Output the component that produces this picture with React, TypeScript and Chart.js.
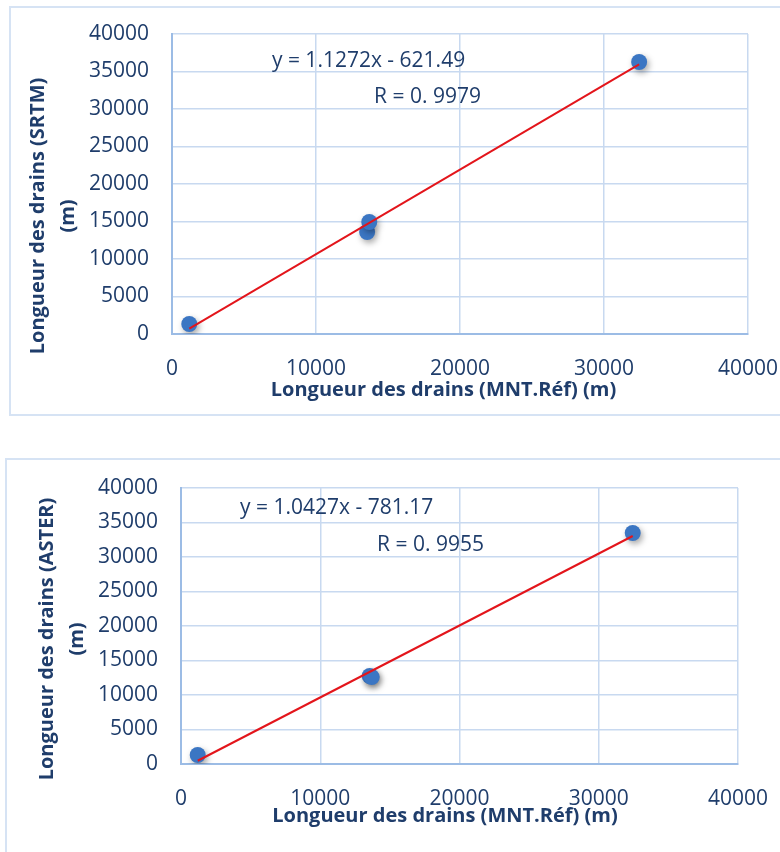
import React, { useEffect, useRef } from "react";
import { Chart, registerables } from "chart.js";

Chart.register(...registerables);

// ---------- data ----------
const REF_X = [1200, 13550, 13700, 32440];
const SRTM_Y = [1330, 13600, 14930, 36270];
const ASTER_Y = [1300, 12750, 12600, 33480];

const SRTM_TREND_X = [1200, 32440];
const SRTM_TREND_Y = [731, 35945];
const ASTER_TREND_X = [1200, 32440];
const ASTER_TREND_Y = [470, 33044];

const X_TICKS = [0, 10000, 20000, 30000, 40000];
const Y_TICKS = [0, 5000, 10000, 15000, 20000, 25000, 30000, 35000, 40000];

const X_TITLE = "Longueur des drains (MNT.Réf) (m)";
const SRTM_Y_TITLE = ["Longueur des drains (SRTM)", "(m)"];
const ASTER_Y_TITLE = ["Longueur des drains (ASTER)", "(m)"];
const SRTM_EQ = "y = 1.1272x - 621.49";
const SRTM_R = "R = 0. 9979";
const ASTER_EQ = "y = 1.0427x - 781.17";
const ASTER_R = "R = 0. 9955";

// ---------- styles ----------
const FONT = "'Open Sans', 'DejaVu Sans', sans-serif";
const TEXT = "#1F3D6B";
const GRID = "#C8D9F0";
const AXIS = "#9CBCE5";
const MARKER = "#3B76C3";
const TREND = "#E3151B";

type PanelProps = {
  width: number;
  height: number;
  area: { left: number; top: number; right: number; bottom: number };
  xs: number[];
  ys: number[];
  tx: number[];
  ty: number[];
  yTitle: string[];
  eq: string;
  r: string;
  eqPos: { x: number; y: number };
  rPos: { x: number; y: number };
  xTitleOffset: { dx: number; dy: number };
  yTitleOffset: number;
};

function Panel(p: PanelProps) {
  const ref = useRef<HTMLCanvasElement>(null);
  useEffect(() => {
    const canvas = ref.current!;
    const shadowPlugin = {
      id: "markerShadow",
      beforeDatasetDraw(chart: any, args: any) {
        if (args.index === 1) {
          const ctx = chart.ctx;
          ctx.save();
          ctx.shadowColor = "rgba(0,0,0,0.35)";
          ctx.shadowBlur = 6;
          ctx.shadowOffsetX = 2;
          ctx.shadowOffsetY = 3;
        }
      },
      afterDatasetDraw(chart: any, args: any) {
        if (args.index === 1) chart.ctx.restore();
      },
    };
    const textPlugin = {
      id: "texts",
      afterDraw(chart: any) {
        const ctx = chart.ctx;
        const ca = chart.chartArea;
        const xs = chart.scales.x;
        const ys = chart.scales.y;
        ctx.save();
        ctx.fillStyle = TEXT;
        ctx.font = `21px ${FONT}`;
        ctx.textAlign = "left";
        ctx.textBaseline = "middle";
        ctx.fillText(p.eq, xs.getPixelForValue(p.eqPos.x), ys.getPixelForValue(p.eqPos.y));
        ctx.fillText(p.r, xs.getPixelForValue(p.rPos.x), ys.getPixelForValue(p.rPos.y));
        // x title
        ctx.font = `bold 20px ${FONT}`;
        ctx.textAlign = "center";
        ctx.fillText(X_TITLE, ca.left + p.xTitleOffset.dx, ca.bottom + p.xTitleOffset.dy);
        // y title
        const cy = (ca.top + ca.bottom) / 2 + p.yTitleOffset;
        p.yTitle.forEach((line, i) => {
          ctx.save();
          ctx.translate(ca.left - 134 + i * 30, cy);
          ctx.rotate(-Math.PI / 2);
          ctx.fillText(line, 0, 0);
          ctx.restore();
        });
        ctx.restore();
      },
    };
    const { width: W, height: H, area } = p;
    const chart = new Chart(canvas, {
      type: "scatter",
      data: {
        datasets: [
          {
            type: "line",
            data: p.tx.map((x, i) => ({ x, y: p.ty[i] })),
            borderColor: TREND,
            borderWidth: 2,
            pointRadius: 0,
            fill: false,
            tension: 0,
          } as any,
          {
            type: "scatter",
            data: p.xs.map((x, i) => ({ x, y: p.ys[i] })),
            backgroundColor: MARKER,
            borderColor: MARKER,
            borderWidth: 0,
            pointRadius: 8,
          },
        ],
      },
      options: {
        responsive: false,
        maintainAspectRatio: false,
        animation: false,
        devicePixelRatio: 1,
        layout: { padding: { left: 0, top: area.top, right: W - area.right, bottom: 0 } },
        plugins: { legend: { display: false }, tooltip: { enabled: false } },
        scales: {
          x: {
            type: "linear",
            min: 0,
            max: 40000,
            afterBuildTicks: (s: any) => {
              s.ticks = X_TICKS.map((v) => ({ value: v }));
            },
            afterFit: (s: any) => {
              s.height = H - area.bottom;
            },
            grid: {
              color: GRID,
              lineWidth: 1.5,
              drawTicks: true,
              tickLength: 22,
              tickColor: "rgba(0,0,0,0)",
            },
            border: { display: true, color: AXIS, width: 2 },
            ticks: {
              color: TEXT,
              font: { family: FONT, size: 21 },
              padding: 0,
              maxRotation: 0,
              autoSkip: false,
              callback: (v: any) => String(v),
            },
          },
          y: {
            type: "linear",
            min: 0,
            max: 40000,
            afterBuildTicks: (s: any) => {
              s.ticks = Y_TICKS.map((v) => ({ value: v }));
            },
            afterFit: (s: any) => {
              s.width = area.left;
            },
            grid: {
              color: GRID,
              lineWidth: 1.5,
              drawTicks: true,
              tickLength: 23,
              tickColor: "rgba(0,0,0,0)",
            },
            border: { display: true, color: AXIS, width: 2 },
            ticks: {
              color: TEXT,
              font: { family: FONT, size: 21 },
              padding: 0,
              autoSkip: false,
              callback: (v: any) => String(v),
            },
          },
        },
      },
      plugins: [shadowPlugin, textPlugin],
    });
    return () => chart.destroy();
  }, []);
  return (
    <canvas
      ref={ref}
      width={p.width}
      height={p.height}
      style={{ position: "absolute", left: 0, top: 0, width: p.width, height: p.height }}
    />
  );
}

export default function App() {
  return (
    <div
      style={{
        position: "absolute",
        left: 0,
        top: 0,
        width: 780,
        height: 852,
        overflow: "hidden",
        background: "#fff",
      }}
    >
      <div
        style={{
          position: "absolute",
          left: 9,
          top: 6,
          width: 800,
          height: 406,
          border: "2px solid #D6E3F4",
        }}
      >
        <Panel
          width={769}
          height={406}
          area={{ left: 161, top: 26, right: 737, bottom: 326 }}
          xs={REF_X}
          ys={SRTM_Y}
          tx={SRTM_TREND_X}
          ty={SRTM_TREND_Y}
          yTitle={SRTM_Y_TITLE}
          eq={SRTM_EQ}
          r={SRTM_R}
          eqPos={{ x: 6940, y: 36400 }}
          rPos={{ x: 14030, y: 31600 }}
          xTitleOffset={{ dx: 271.5, dy: 56 }}
          yTitleOffset={32}
        />
      </div>
      <div
        style={{
          position: "absolute",
          left: 5,
          top: 458,
          width: 800,
          height: 420,
          border: "2px solid #D6E3F4",
        }}
      >
        <Panel
          width={773}
          height={392}
          area={{ left: 174, top: 28, right: 731, bottom: 304 }}
          xs={REF_X}
          ys={ASTER_Y}
          tx={ASTER_TREND_X}
          ty={ASTER_TREND_Y}
          yTitle={ASTER_Y_TITLE}
          eq={ASTER_EQ}
          r={ASTER_R}
          eqPos={{ x: 4240, y: 37100 }}
          rPos={{ x: 14080, y: 31740 }}
          xTitleOffset={{ dx: 264, dy: 52 }}
          yTitleOffset={13}
        />
      </div>
    </div>
  );
}
